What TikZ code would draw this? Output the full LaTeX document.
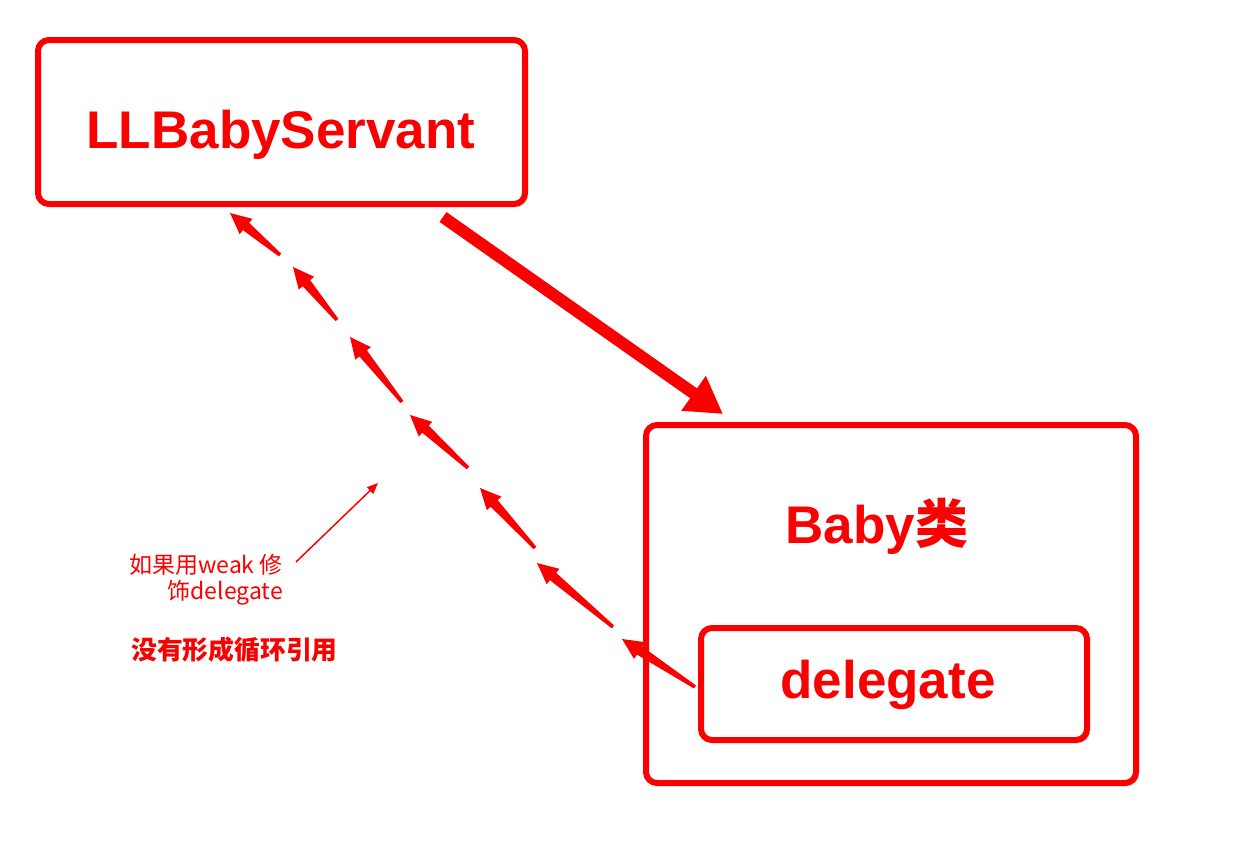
\documentclass[tikz,border=0pt]{standalone}
\usepackage{fontspec}
\setmainfont{Liberation Sans}
\newfontfamily\cjk{Noto Sans CJK SC}
\usetikzlibrary{arrows.meta,shadows,calc}
\definecolor{rd}{RGB}{250,0,0}
\newcommand\taperarrow[2]{%
  \coordinate (tb) at ($(#2)!21pt!(#1)$);
  \fill[rd] ($(#1)!1.8pt!90:(#2)$) -- ($(tb)!4.8pt!-90:(#1)$) -- ($(tb)!10pt!-90:(#1)$) -- (#2)
    -- ($(tb)!10pt!90:(#1)$) -- ($(tb)!4.8pt!90:(#1)$) -- ($(#1)!1.8pt!-90:(#2)$) -- cycle;}
\begin{document}
\begin{tikzpicture}[x=1pt,y=-1pt,
  box/.style={draw=rd, line width=6pt, rounded corners=11pt, fill=white,
    drop shadow={opacity=0.3, shadow xshift=3pt, shadow yshift=-3pt}},
  big/.style={text=rd, inner sep=0pt, font=\fontsize{53}{60}\selectfont\bfseries},
  small/.style={text=rd, inner sep=0pt, font=\cjk\fontsize{23}{26}\selectfont},
  thinarrow/.style={draw=rd, line width=1.5pt, -{Triangle[length=11pt,width=9pt]}},
  thickarrow/.style={draw=rd, line width=12pt, -{Triangle[length=36pt,width=40pt]}}]
\useasboundingbox (0,0) rectangle (1240,846);
\fill[white] (0,0) rectangle (1240,846);

% boxes
\node[box, minimum width=487pt, minimum height=164pt] (servant) at (281.5,122) {};
\node[box, minimum width=490pt, minimum height=358pt] (baby) at (891,604) {};
\node[box, minimum width=386pt, minimum height=112pt] (dlg) at (894,684) {};

% labels
\node[big, anchor=base] (servantlbl) at (281,148) {LLBabyServant};
\node[big, anchor=base] (babylbl) at (877,543) {Baby{\cjk\bfseries 类}};
\node[big, anchor=base] (dlglbl) at (888,698) {delegate};

\node[small, anchor=base east] (weak1) at (283,573) {如果用weak 修};
\node[small, anchor=base east] (weak2) at (283,599) {饰delegate};
\node[text=rd, inner sep=0pt, anchor=base west, font=\cjk\fontsize{25.8}{30}\selectfont\bfseries] (cycle) at (131,659) {没有形成循环引用};

% thick arrow: servant -> baby
\coordinate (ts) at (443,217);
\coordinate (th) at (723,414);
\draw[thickarrow] (ts) -- (th);

% thin annotation arrow
\coordinate (wt) at (296,562);
\coordinate (wh) at (378,483);
\draw[thinarrow] (wt) -- (wh);

% dashed weak arrow: delegate -> servant
\coordinate (t1) at (280,255); \coordinate (h1) at (230,213);
\coordinate (t2) at (337,320); \coordinate (h2) at (293,267);
\coordinate (t3) at (402,402); \coordinate (h3) at (350,337);
\coordinate (t4) at (468,468); \coordinate (h4) at (410,415);
\coordinate (t5) at (535,548); \coordinate (h5) at (480,488);
\coordinate (t6) at (613,627); \coordinate (h6) at (537,563);
\coordinate (t7) at (695,687); \coordinate (h7) at (622,639);
\taperarrow{t1}{h1}
\taperarrow{t2}{h2}
\taperarrow{t3}{h3}
\taperarrow{t4}{h4}
\taperarrow{t5}{h5}
\taperarrow{t6}{h6}
\taperarrow{t7}{h7}
\end{tikzpicture}
\end{document}
